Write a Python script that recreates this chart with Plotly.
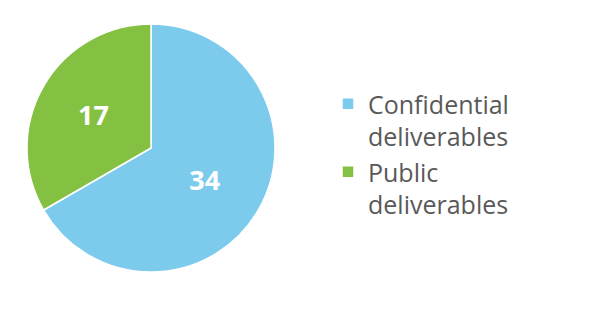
import plotly.graph_objects as go

categories = ["Confidential<br>deliverables", "Public<br>deliverables"]
values = [34, 17]
colors = ["#7DCBEC", "#84C142"]

W, H = 606, 325
fig = go.Figure(go.Pie(
    labels=categories,
    values=values,
    marker=dict(colors=colors, line=dict(color="white", width=1.5)),
    sort=False,
    direction="clockwise",
    rotation=0,
    textinfo="value",
    textposition="inside",
    insidetextorientation="horizontal",
    textfont=dict(color="white", size=27, family="Open Sans", weight="bold"),
    domain=dict(x=[27 / W, 275 / W], y=[1 - 272 / H, 1 - 24 / H]),
    hoverinfo="label+value",
))
fig.update_layout(
    width=W, height=H,
    margin=dict(l=0, r=0, t=0, b=0),
    paper_bgcolor="white",
    showlegend=True,
    legend=dict(
        x=328 / W, y=1 - 154 / H, xanchor="left", yanchor="middle",
        font=dict(size=25, color="#595959", family="Open Sans"),
        itemwidth=30,
        valign="top",
        tracegroupgap=0,
    ),
)
fig.write_html("out.html")
